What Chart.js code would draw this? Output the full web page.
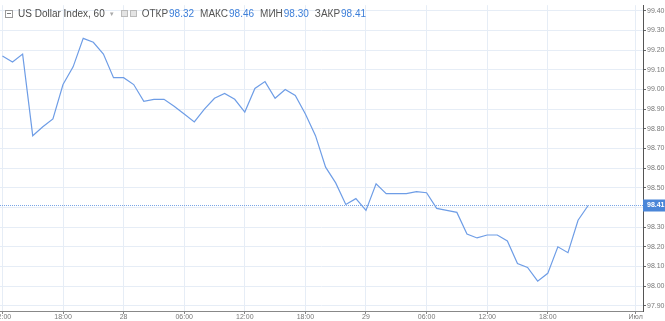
<!DOCTYPE html>
<html>
<head>
<meta charset="utf-8">
<script src="https://cdn.jsdelivr.net/npm/chart.js@4"></script>
<style>
  body { margin: 0; background: #fff; }
  #wrap { position: relative; width: 665px; height: 321px; overflow: hidden; }
  #head {
    position: absolute; left: 5px; top: 8px; font: 10px "Liberation Sans", Arial, sans-serif;
    color: #4a4a4a; white-space: nowrap; display: flex; align-items: center;
  }
  .box { display: inline-block; width: 6px; height: 6px; border: 1px solid #999; position: relative; margin-right: 5px; }
  .box:after { content: ""; position: absolute; left: 1px; right: 1px; top: 2.5px; height: 1px; background: #777; }
  .ico { display: inline-block; width: 5px; height: 5px; border: 1px solid #bbb; background: #e4e4e4; margin-right: 2px; }
  .lbl { color: #555; margin-left: 3px; }
  .val { color: #3d7fd9; margin-left: 1px; margin-right: 3px; }
  .arr { color: #aaa; font-size: 6px; margin: 0 6px 0 4px; }
</style>
</head>
<body>
<div id="wrap">
  <canvas id="chart" width="665" height="321"></canvas>
  <div id="head"></div>
</div>
<script>
// hourly closes, starting 27th 12:00
const closes = [
  99.17, 99.14, 99.18, 98.765, 98.81, 98.85, 99.025, 99.115, 99.26, 99.24,
  99.18, 99.06, 99.06, 99.025, 98.94, 98.95, 98.95, 98.915, 98.875, 98.835,
  98.90, 98.955, 98.98, 98.95, 98.885, 99.005, 99.04, 98.955, 99.00, 98.97,
  98.875, 98.765, 98.605, 98.525, 98.415, 98.445, 98.385, 98.52, 98.47, 98.47,
  98.47, 98.48, 98.475, 98.395, 98.385, 98.375, 98.265, 98.245, 98.26, 98.26,
  98.23, 98.115, 98.095, 98.025, 98.065, 98.20, 98.17, 98.335, 98.41
];
const xTickPos = [0, 6, 12, 18, 24, 30, 36, 42, 48, 54, 62.7];
const xTickLabels = ['12:00', '18:00', '28', '06:00', '12:00', '18:00', '29', '06:00', '12:00', '18:00', 'Июл'];
const yTicks = [97.9, 98.0, 98.1, 98.2, 98.3, 98.4, 98.5, 98.6, 98.7, 98.8, 98.9, 99.0, 99.1, 99.2, 99.3, 99.4];
const ohlcLabels = ['ОТКР', 'МАКС', 'МИН', 'ЗАКР'];
const ohlcValues = [98.32, 98.46, 98.30, 98.41];
const title = 'US Dollar Index, 60';

// header
const head = document.getElementById('head');
let html = '<span class="box"></span><span>' + title + '</span><span class="arr">▼</span>' +
  '<span class="ico"></span><span class="ico"></span>';
ohlcLabels.forEach((l, i) => {
  html += '<span class="lbl">' + l + '</span><span class="val">' + ohlcValues[i].toFixed(2) + '</span>';
});
head.innerHTML = html;

const lastClose = ohlcValues[3];

const extras = {
  id: 'extras',
  afterDraw(chart) {
    const ctx = chart.ctx;
    const xs = chart.scales.x, ys = chart.scales.y;
    const area = chart.chartArea;
    // x labels
    ctx.save();
    ctx.font = '7px "Liberation Sans", Arial, sans-serif';
    ctx.fillStyle = '#777';
    ctx.textAlign = 'center';
    ctx.textBaseline = 'middle';
    xTickPos.forEach((p, i) => {
      ctx.fillText(xTickLabels[i], xs.getPixelForValue(p), area.bottom + 6);
    });
    // last price line
    const y = Math.round(ys.getPixelForValue(lastClose)) + 0.5;
    ctx.strokeStyle = '#7aa6e6';
    ctx.lineWidth = 1;
    ctx.setLineDash([1, 1]);
    ctx.beginPath();
    ctx.moveTo(area.left, y);
    ctx.lineTo(area.right, y);
    ctx.stroke();
    ctx.setLineDash([]);
    // price label
    ctx.fillStyle = '#4a86d8';
    ctx.fillRect(area.right, y - 6, 22, 12);
    ctx.fillStyle = '#fff';
    ctx.textAlign = 'left';
    ctx.font = 'bold 7px "Liberation Sans", Arial, sans-serif';
    ctx.fillText(lastClose.toFixed(2), area.right + 4, y);
    ctx.restore();
  }
};

new Chart(document.getElementById('chart'), {
  type: 'line',
  data: {
    datasets: [{
      data: closes.map((v, i) => ({ x: i, y: v })),
      borderColor: 'rgb(110,157,230)',
      borderWidth: 1.2,
      pointRadius: 0,
      tension: 0,
      fill: false
    }]
  },
  options: {
    responsive: false,
    animation: false,
    layout: { padding: 0 },
    plugins: { legend: { display: false }, tooltip: { enabled: false } },
    scales: {
      x: {
        type: 'linear',
        min: -0.24,
        max: 63.43,
        afterBuildTicks: s => { s.ticks = xTickPos.map(v => ({ value: v })); },
        afterFit: s => { s.height = 10; },
        ticks: { display: false },
        grid: { color: '#e6edf6', tickColor: '#888', tickLength: 3 },
        border: { color: '#888' }
      },
      y: {
        position: 'right',
        min: 97.8735,
        max: 99.4285,
        afterBuildTicks: s => { s.ticks = yTicks.map(v => ({ value: v })); },
        afterFit: s => { s.width = 22; },
        ticks: {
          padding: 1,
          color: '#777',
          font: { size: 7, family: '"Liberation Sans", Arial, sans-serif' },
          callback: v => Number(v).toFixed(2)
        },
        grid: { color: '#e6edf6', tickColor: '#666', tickLength: 3 },
        border: { color: '#555' }
      }
    }
  },
  plugins: [extras]
});
</script>
</body>
</html>
